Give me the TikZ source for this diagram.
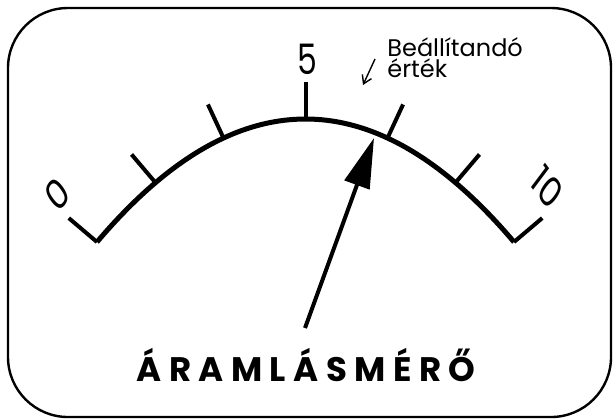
\documentclass[tikz,border=0pt]{standalone}
\usepackage{fontspec}
\setmainfont{Poppins}
\usetikzlibrary{arrows.meta}

\tikzset{
  frameline/.style={line width=1.2pt, rounded corners=30pt},
  dialarc/.style={line width=2.5pt},
  dialtick/.style={line width=2pt},
  needle/.style={line width=2pt, -{Triangle[length=25pt,width=13pt]}},
  hintarrow/.style={line width=0.7pt, -{Straight Barb[length=4pt,width=5pt]}},
  scalenum/.style={font=\fontsize{21}{21}\selectfont, xscale=0.75, inner sep=0pt},
  hinttext/.style={font=\fontsize{12}{10.5}\selectfont, align=left, anchor=north west, inner sep=0pt},
  titletext/.style={font=\fontsize{17}{17}\selectfont\bfseries\addfontfeature{LetterSpace=22}, anchor=base, inner sep=0pt}
}

\begin{document}
\begin{tikzpicture}[x=0.5pt, y=-0.5pt]
    \useasboundingbox (0,0) rectangle (613,419);

    % Keret
    \draw[frameline] (8,8) rectangle (611,417);

    % Skála ív (parabola)
    \draw[dialarc, domain=-208.5:208.5, samples=90]
        plot ({305.5+\x}, {119+(\x/18.8)^2});

    % Osztások
    \foreach \d in {-208.5,-150,-82,0,82,150,208.5} {
        \pgfmathsetmacro\s{2*\d/(18.8*18.8)}
        \pgfmathsetmacro\n{sqrt(1+\s*\s)}
        \draw[dialtick] (305.5+\d, {119+(\d/18.8)^2}) -- ++({37*\s/\n}, {-37/\n});
    }

    % Számok
    \node[scalenum, rotate=45] (zero) at (57.5,194) {0};
    \node[scalenum] (five) at (307,59) {5};
    \node[scalenum, rotate=-45] (ten) at (547,187) {10};

    % Beállítandó érték
    \node[hinttext] (hint) at (387,37) {Beállítandó\\érték};
    \coordinate (hintfrom) at (375,59);
    \coordinate (hintto) at (363,85);
    \draw[hintarrow] (hintfrom) -- (hintto);

    % Mutató
    \coordinate (pivot) at (305,328);
    \coordinate (tip) at (374,138);
    \draw[needle] (pivot) -- (tip);

    % Felirat
    \node[titletext] (title) at (306,381) {ÁRAMLÁSMÉRŐ};
\end{tikzpicture}
\end{document}
